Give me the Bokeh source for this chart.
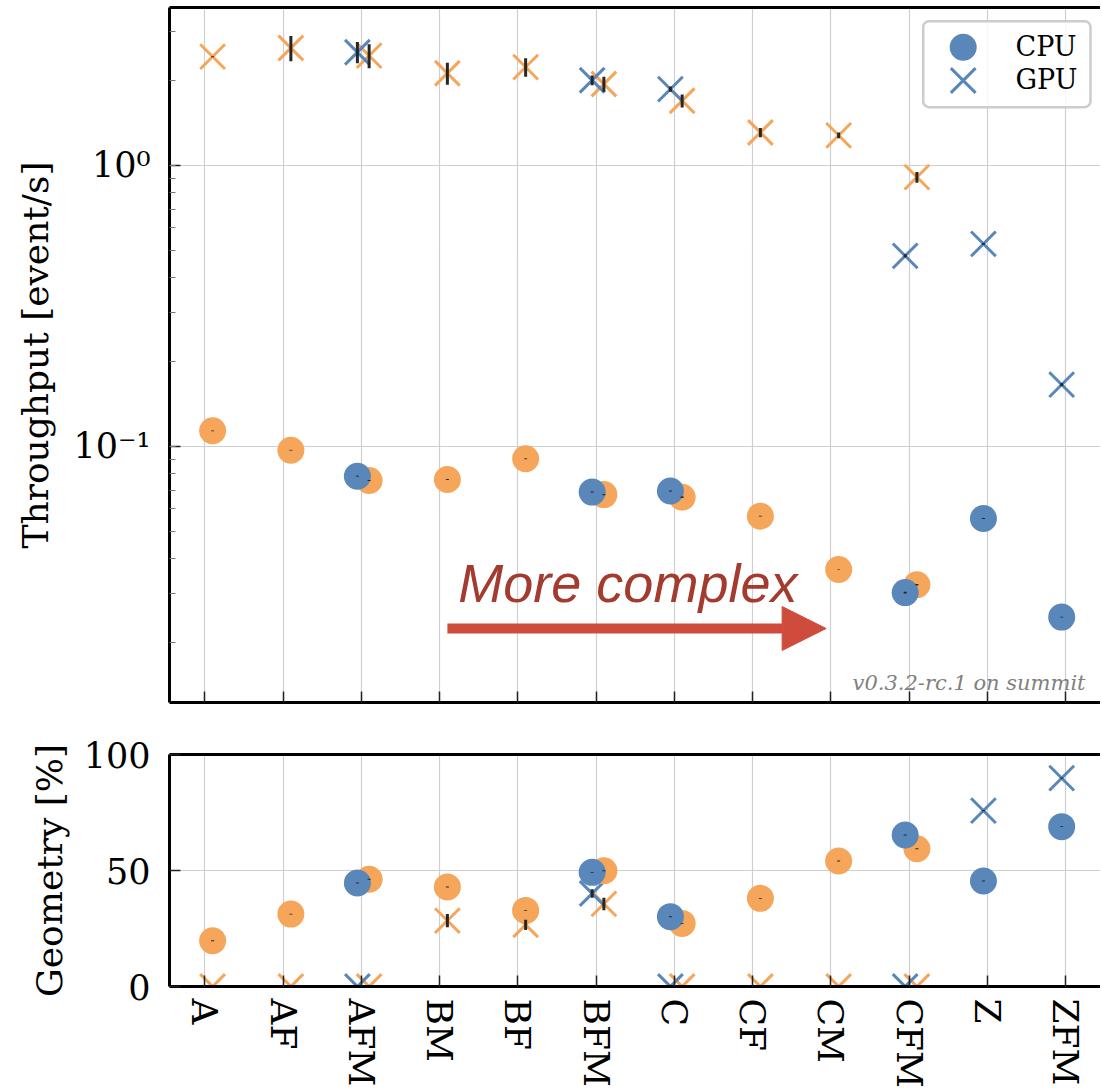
import numpy as np
from bokeh.plotting import figure
from bokeh.models import (Range1d, LinearAxis, FixedTicker, ColumnDataSource, Arrow,
                          NormalHead, Label, BoxAnnotation, LinearScale)
from bokeh.layouts import column
from bokeh.embed import file_html
from bokeh.resources import INLINE

nan = float("nan")

categories = ["A", "AF", "AFM", "BM", "BF", "BFM", "C", "CF", "CM", "CFM", "Z", "ZFM"]

# Throughput [event/s]
gpu_orange_thr = [2.44, 2.62, 2.46, 2.13, 2.24, 1.95, 1.70, 1.31, 1.28, 0.909, nan, nan]
gpu_orange_thr_err = [0.01, 0.27, 0.24, 0.19, 0.17, 0.12, 0.09, 0.05, 0.03, 0.04, nan, nan]
gpu_blue_thr = [nan, nan, 2.53, nan, nan, 2.01, 1.87, nan, nan, 0.477, 0.526, 0.166]
gpu_blue_thr_err = [nan, nan, 0.22, nan, nan, 0.08, 0.04, nan, nan, 0.006, 0.004, 0.002]
cpu_orange_thr = [0.1137, 0.0970, 0.0757, 0.0763, 0.0904, 0.0674, 0.0660, 0.0565, 0.0365, 0.0322, nan, nan]
cpu_orange_thr_err = [0.0004, 0.0003, 0.0003, 0.0003, 0.0003, 0.0003, 0.0004, 0.0002, 0.0001, 0.0002, nan, nan]
cpu_blue_thr = [nan, nan, 0.0784, nan, nan, 0.0688, 0.0694, nan, nan, 0.0302, 0.0554, 0.0247]
cpu_blue_thr_err = [nan, nan, 0.0003, nan, nan, 0.0003, 0.0003, nan, nan, 0.0002, 0.0002, 0.0001]

# Geometry [%]
cpu_orange_geo = [19.7, 31.2, 46.2, 42.9, 32.8, 49.9, 27.2, 38.0, 54.1, 59.4, nan, nan]
cpu_orange_geo_err = [0.2, 0.2, 0.2, 0.2, 0.2, 0.2, 0.2, 0.2, 0.2, 0.2, nan, nan]
cpu_blue_geo = [nan, nan, 44.6, nan, nan, 49.2, 30.1, nan, nan, 65.3, 45.5, 68.9]
cpu_blue_geo_err = [nan, nan, 0.2, nan, nan, 0.2, 0.2, nan, nan, 0.2, 0.2, 0.2]
gpu_orange_geo = [0, 0, 0, 28.4, 26.6, 35.6, 0, 0, 0, 0, nan, nan]
gpu_orange_geo_err = [0, 0, 0, 2.9, 2.2, 2.7, 0, 0, 0, 0, nan, nan]
gpu_blue_geo = [nan, nan, 0, nan, nan, 40.1, 0, nan, nan, 0, 75.8, 89.8]
gpu_blue_geo_err = [nan, nan, 0, nan, nan, 1.8, 0, nan, nan, 0, 0.3, 0.3]

legend_labels = ["CPU", "GPU"]
legend_markers = ["circle", "x"]

BLUE = "#5a87b9"
ORANGE = "#f5a65b"
ERR = "#262626"
GRID = "#cfcfcf"
SERIF = "DejaVu Serif"
X_SIZE = 35
C_SIZE = 27

idx = np.arange(len(categories))
OFF_BLUE = -0.05
OFF_ORANGE = 0.10


def src(vals, errs, off):
    v = np.array(vals, dtype=float)
    e = np.array(errs, dtype=float)
    m = ~np.isnan(v)
    x = idx[m] + off
    return ColumnDataSource(dict(x=x, y=v[m], lo=v[m] - e[m], hi=v[m] + e[m]))


def style_common(p):
    p.outline_line_color = None
    p.xgrid.ticker = FixedTicker(ticks=list(idx))
    for g in (p.xgrid, p.ygrid):
        g.grid_line_color = GRID
        g.grid_line_width = 1.2
    p.xaxis.ticker = FixedTicker(ticks=list(idx))
    for ax in (p.xaxis, p.yaxis):
        ax.axis_line_width = 3
        ax.axis_line_color = "black"
        ax.major_tick_out = 0
        ax.major_tick_in = 11
        ax.major_tick_line_width = 1.5
        ax.major_tick_line_color = "#222222"
        ax.minor_tick_out = 0
        ax.major_label_text_color = "black"
        ax.axis_label_text_color = "black"
    p.xaxis.minor_tick_line_color = None
    p.yaxis.major_label_text_font = SERIF
    p.yaxis.major_label_text_font_size = "35px"
    p.yaxis.major_label_standoff = 19
    p.yaxis.axis_label_text_font = SERIF
    p.yaxis.axis_label_text_font_size = "36px"
    p.yaxis.axis_label_text_font_style = "normal"
    top = LinearAxis(ticker=FixedTicker(ticks=[]), axis_line_width=3, axis_line_color="black",
                     major_tick_in=0, major_tick_out=0, minor_tick_in=0, minor_tick_out=0,
                     major_label_text_font_size="10px", major_label_text_color=None,
                     major_label_standoff=0)
    p.add_layout(top, "above")


def draw(p, series):
    rs = {}
    for name, (vals, errs, off, color, marker) in series.items():
        s = src(vals, errs, off)
        if marker == "x":
            r = p.scatter("x", "y", source=s, marker="x", size=X_SIZE, line_color=color,
                          line_width=3)
        else:
            r = p.scatter("x", "y", source=s, marker="circle", size=C_SIZE, fill_color=color,
                          line_color=None)
        rs[name] = (r, s)
    for name, (r, s) in rs.items():
        p.segment(x0="x", y0="lo", x1="x", y1="hi", source=s, line_color=ERR, line_width=3)
    return rs


# frame: x 169..1100, top panel y 7..702, bottom panel y 754..986 (page pixels)
x_range = Range1d(-0.451, 11.446)

# ---------------- top panel ----------------
p1 = figure(width=1100, height=722, x_range=x_range, y_range=Range1d(0.01227, 3.650),
            y_axis_type="log", output_backend="svg", toolbar_location=None,
            min_border_left=169, min_border_right=0, min_border_top=7, min_border_bottom=20)
style_common(p1)
bx = p1.below[0]
bx.major_label_text_font_size = "10px"
bx.major_label_text_color = None
bx.major_label_standoff = 0
p1.yaxis.minor_tick_in = 6
p1.yaxis.minor_tick_line_color = "#777777"
p1.yaxis.minor_tick_line_width = 1.2
p1.yaxis.major_label_overrides = {1: "10⁰", 0.1: "10⁻¹"}
p1.yaxis.axis_label = "Throughput [event/s]"
p1.yaxis.axis_label_standoff = 14
p1.ygrid.minor_grid_line_color = None

rs1 = draw(p1, {
    "gpu_orange": (gpu_orange_thr, gpu_orange_thr_err, OFF_ORANGE, ORANGE, "x"),
    "gpu_blue": (gpu_blue_thr, gpu_blue_thr_err, OFF_BLUE, BLUE, "x"),
    "cpu_orange": (cpu_orange_thr, cpu_orange_thr_err, OFF_ORANGE, ORANGE, "circle"),
    "cpu_blue": (cpu_blue_thr, cpu_blue_thr_err, OFF_BLUE, BLUE, "circle"),
})

# legend (drawn in page-pixel coordinates of the frame)
p1.extra_x_ranges = {"lx": Range1d(169, 1100)}
p1.extra_y_ranges = {"ly": Range1d(702, 7)}
p1.extra_x_scales = {"lx": LinearScale()}
p1.extra_y_scales = {"ly": LinearScale()}
box = BoxAnnotation(left=922.7, right=1090, top=20.7, bottom=106.7,
                    x_range_name="lx", y_range_name="ly",
                    fill_color="white", fill_alpha=0.8,
                    line_color="#cccccc", line_width=2.5, line_alpha=1)
try:
    box.border_radius = 6
except Exception:
    pass
p1.add_layout(box)
leg_y = [46.7, 80.0]
for lab, mk, yy in zip(legend_labels, legend_markers, leg_y):
    if mk == "x":
        r = p1.scatter(x=[962.7], y=[yy], marker="x", size=X_SIZE, line_color=BLUE,
                       line_width=3, x_range_name="lx", y_range_name="ly")
    else:
        r = p1.scatter(x=[962.7], y=[yy], marker="circle", size=C_SIZE, fill_color=BLUE,
                       line_color=None, x_range_name="lx", y_range_name="ly")
    r.level = "overlay"
    p1.add_layout(Label(x=1015, y=yy - 1, text=lab, x_range_name="lx", y_range_name="ly",
                        text_font=SERIF, text_font_size="27px", text_color="black",
                        text_align="left", text_baseline="middle", level="overlay"))

p1.add_layout(Arrow(x_start=3.10, y_start=0.0225, x_end=7.94, y_end=0.0225,
                    line_color="#cf4c3c", line_width=10,
                    end=NormalHead(size=44, fill_color="#cf4c3c", line_color="#cf4c3c")))
p1.add_layout(Label(x=3.24, y=0.0328, text="More complex", text_font="Liberation Sans",
                    text_font_style="italic", text_font_size="54px", text_color="#a33b2f",
                    text_align="left", text_baseline="alphabetic"))
p1.add_layout(Label(x=11.255, y=0.01434, text="v0.3.2-rc.1 on summit", text_font=SERIF,
                    text_font_style="italic", text_font_size="21px", text_color="#808080",
                    text_align="right", text_baseline="alphabetic"))

# ---------------- bottom panel ----------------
p2 = figure(width=1100, height=369, x_range=x_range, y_range=Range1d(0, 100),
            output_backend="svg", toolbar_location=None,
            min_border_left=169, min_border_right=0, min_border_top=32, min_border_bottom=105)
style_common(p2)
bx2 = p2.below[0]
bx2.major_label_overrides = {int(i): c for i, c in zip(idx, categories)}
bx2.major_label_orientation = "vertical"
bx2.major_label_text_font = SERIF
bx2.major_label_text_font_size = "36px"
bx2.major_label_standoff = 12
p2.yaxis.ticker = FixedTicker(ticks=[0, 50, 100])
p2.yaxis.minor_tick_line_color = None
p2.yaxis.axis_label = "Geometry [%]"
p2.yaxis.axis_label_standoff = 11

draw(p2, {
    "gpu_orange": (gpu_orange_geo, gpu_orange_geo_err, OFF_ORANGE, ORANGE, "x"),
    "gpu_blue": (gpu_blue_geo, gpu_blue_geo_err, OFF_BLUE, BLUE, "x"),
    "cpu_orange": (cpu_orange_geo, cpu_orange_geo_err, OFF_ORANGE, ORANGE, "circle"),
    "cpu_blue": (cpu_blue_geo, cpu_blue_geo_err, OFF_BLUE, BLUE, "circle"),
})

layout = column(p1, p2)
open("out.html", "w").write(file_html(layout, INLINE))
